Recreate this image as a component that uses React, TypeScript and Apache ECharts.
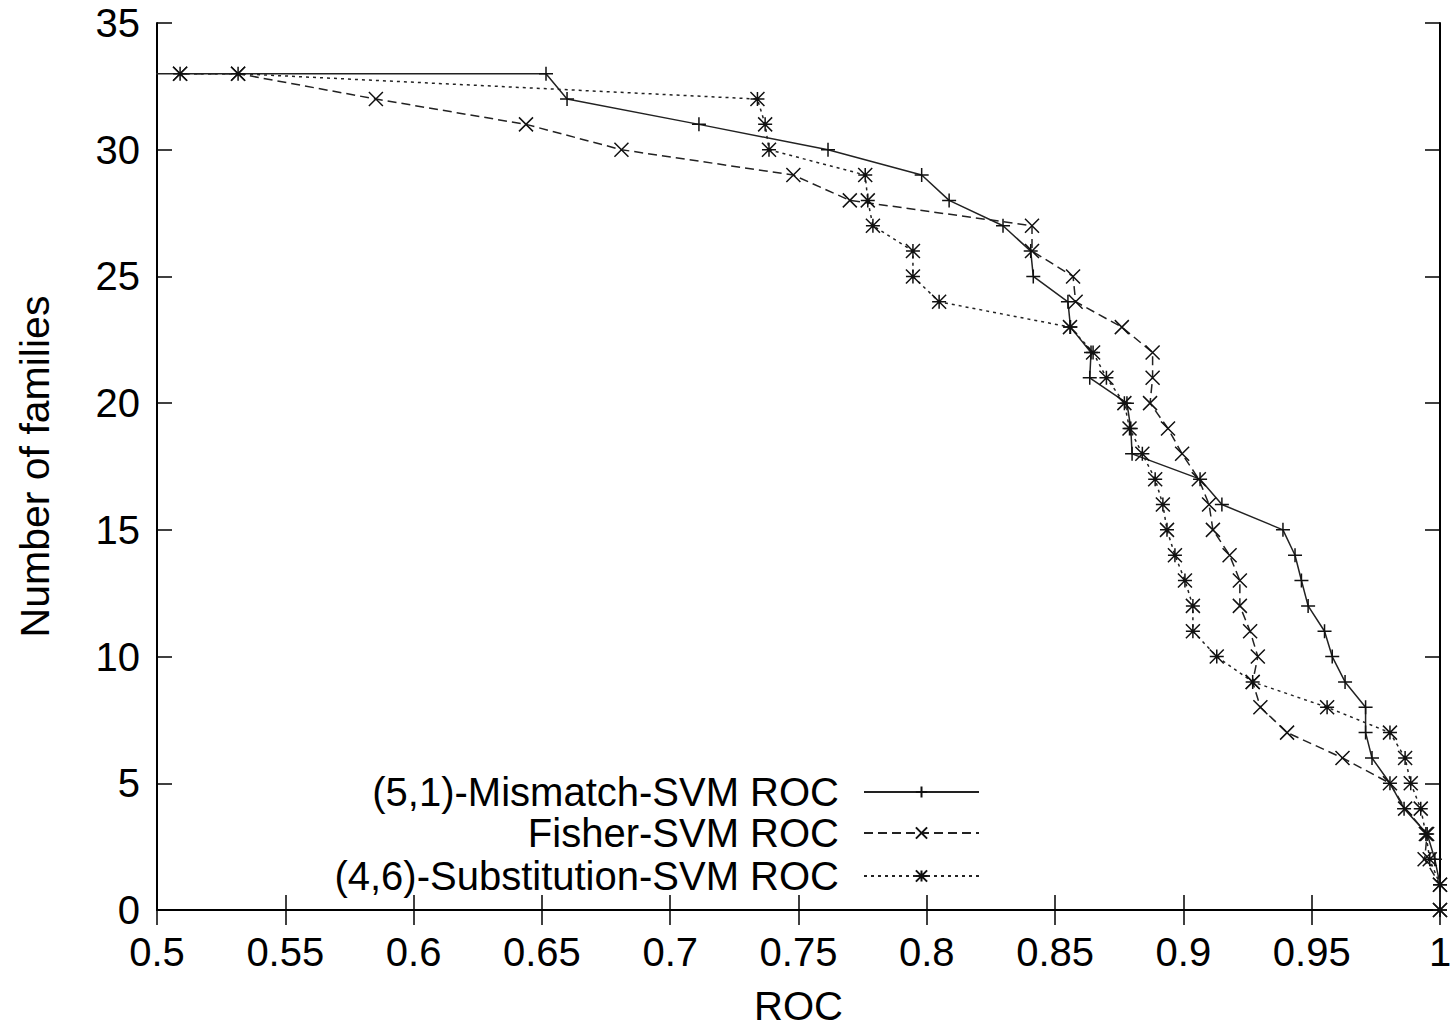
import React, { useEffect, useRef } from "react";
import * as echarts from "echarts";

const mismatchNames = "(5,1)-Mismatch-SVM ROC";
const fisherName = "Fisher-SVM ROC";
const substitutionName = "(4,6)-Substitution-SVM ROC";

const xTicks = { min: 0.5, max: 1, step: 0.05 };
const yTicks = { min: 0, max: 35, step: 5 };

// [ROC, number of families]
const mismatchData: [number, number][] = [
  [0.49, 33], [0.6516, 33], [0.6598, 32], [0.7112, 31], [0.7615, 30], [0.798, 29],
  [0.8087, 28], [0.8297, 27], [0.8405, 26], [0.8415, 25], [0.855, 24], [0.856, 23],
  [0.864, 22], [0.8635, 21], [0.878, 20], [0.8795, 19], [0.88, 18], [0.9065, 17],
  [0.915, 16], [0.9388, 15], [0.9435, 14], [0.946, 13], [0.9486, 12], [0.955, 11],
  [0.958, 10], [0.963, 9], [0.971, 8], [0.971, 7], [0.9735, 6], [0.9805, 5],
  [0.986, 4], [0.995, 3], [0.998, 2], [1.0, 1], [1.0, 0],
];

const fisherData: [number, number][] = [
  [0.509, 33], [0.5316, 33], [0.5853, 32], [0.6438, 31], [0.681, 30], [0.748, 29],
  [0.77, 28], [0.841, 27], [0.841, 26], [0.857, 25], [0.858, 24], [0.876, 23],
  [0.888, 22], [0.888, 21], [0.887, 20], [0.894, 19], [0.8995, 18], [0.906, 17],
  [0.91, 16], [0.9115, 15], [0.918, 14], [0.922, 13], [0.922, 12], [0.926, 11],
  [0.929, 10], [0.927, 9], [0.93, 8], [0.9404, 7], [0.962, 6], [0.9805, 5],
  [0.9864, 4], [0.995, 3], [0.994, 2], [1.0, 1], [1.0, 0],
];

const substitutionData: [number, number][] = [
  [0.509, 33], [0.5316, 33], [0.734, 32], [0.737, 31], [0.7385, 30], [0.776, 29],
  [0.777, 28], [0.779, 27], [0.7946, 26], [0.7946, 25], [0.8048, 24], [0.8558, 23],
  [0.8648, 22], [0.87, 21], [0.877, 20], [0.879, 19], [0.884, 18], [0.889, 17],
  [0.892, 16], [0.8936, 15], [0.8967, 14], [0.9006, 13], [0.9037, 12], [0.9037, 11],
  [0.913, 10], [0.927, 9], [0.956, 8], [0.9805, 7], [0.9864, 6], [0.9886, 5],
  [0.9925, 4], [0.9945, 3], [0.996, 2], [1.0, 1], [1.0, 0],
];

const PLUS = "path://M0,5L10,5M5,0L5,10";
const CROSS = "path://M0,0L10,10M10,0L0,10";
const STAR = "path://M0,5L10,5M5,0L5,10M0,0L10,10M10,0L0,10";

const FONT = "'Liberation Sans', Arial, sans-serif";

export default function App() {
  const ref = useRef<HTMLDivElement>(null);

  useEffect(() => {
    if (!ref.current) return;
    const chart = echarts.init(ref.current, null, { renderer: "svg" });

    const axisLine = { show: true, lineStyle: { color: "#000", width: 2 } };
    const tickStyle = { show: true, inside: true, length: 15, lineStyle: { color: "#000", width: 1.5 } };

    const mkSeries = (name: string, data: [number, number][], symbol: string, dash: any) => ({
      name,
      type: "line",
      data,
      clip: true,
      symbol,
      symbolSize: 14,
      showSymbol: true,
      showAllSymbol: true,
      itemStyle: { color: "#111", borderColor: "#111", borderWidth: 1.5 },
      lineStyle: { color: "#222", width: 1.5, type: dash },
      emphasis: { disabled: true },
    });

    const mkLegend = (name: string, top: number) => ({
      data: [name],
      right: 471,
      top,
      align: "right",
      orient: "horizontal",
      padding: 0,
      itemWidth: 115,
      itemHeight: 14,
      selectedMode: false,
      textStyle: {
        fontFamily: FONT,
        fontSize: 40,
        lineHeight: 40,
        color: "#000",
        padding: [0, 20, 0, 0],
      },
    });

    chart.setOption({
      animation: false,
      backgroundColor: "#fff",
      grid: {
        left: 157,
        top: 23,
        width: 1283,
        height: 887,
        containLabel: false,
        outerBoundsMode: "none",
      },
      legend: [
        mkLegend(mismatchNames, 772),
        mkLegend(fisherName, 813),
        mkLegend(substitutionName, 856),
      ],
      xAxis: [
        {
          type: "value",
          position: "bottom",
          min: xTicks.min,
          max: xTicks.max,
          interval: xTicks.step,
          axisLine,
          axisTick: tickStyle,
          splitLine: { show: false },
          axisLabel: { fontFamily: FONT, fontSize: 40, color: "#000", margin: 22 },
          name: "ROC",
          nameLocation: "middle",
          nameGap: 76,
          nameTextStyle: { fontFamily: FONT, fontSize: 40, lineHeight: 40, color: "#000" },
        },
        {
          type: "value",
          position: "top",
          min: xTicks.min,
          max: xTicks.max,
          interval: xTicks.step,
          axisLine,
          axisTick: tickStyle,
          splitLine: { show: false },
          axisLabel: { show: false },
        },
      ],
      yAxis: [
        {
          type: "value",
          position: "left",
          min: yTicks.min,
          max: yTicks.max,
          interval: yTicks.step,
          axisLine,
          axisTick: tickStyle,
          splitLine: { show: false },
          axisLabel: { fontFamily: FONT, fontSize: 40, color: "#000", margin: 17 },
          name: "Number of families",
          nameLocation: "middle",
          nameGap: 102,
          nameTextStyle: { fontFamily: FONT, fontSize: 41, color: "#000" },
        },
        {
          type: "value",
          position: "right",
          min: yTicks.min,
          max: yTicks.max,
          interval: yTicks.step,
          axisLine,
          axisTick: tickStyle,
          splitLine: { show: false },
          axisLabel: { show: false },
        },
      ],
      series: [
        mkSeries(mismatchNames, mismatchData, PLUS, "solid"),
        mkSeries(fisherName, fisherData, CROSS, [9, 5]),
        mkSeries(substitutionName, substitutionData, STAR, [3, 4]),
      ],
    });

    return () => chart.dispose();
  }, []);

  return (
    <div
      ref={ref}
      style={{ position: "absolute", left: 0, top: 0, width: 1451, height: 1031, background: "#fff" }}
    />
  );
}
